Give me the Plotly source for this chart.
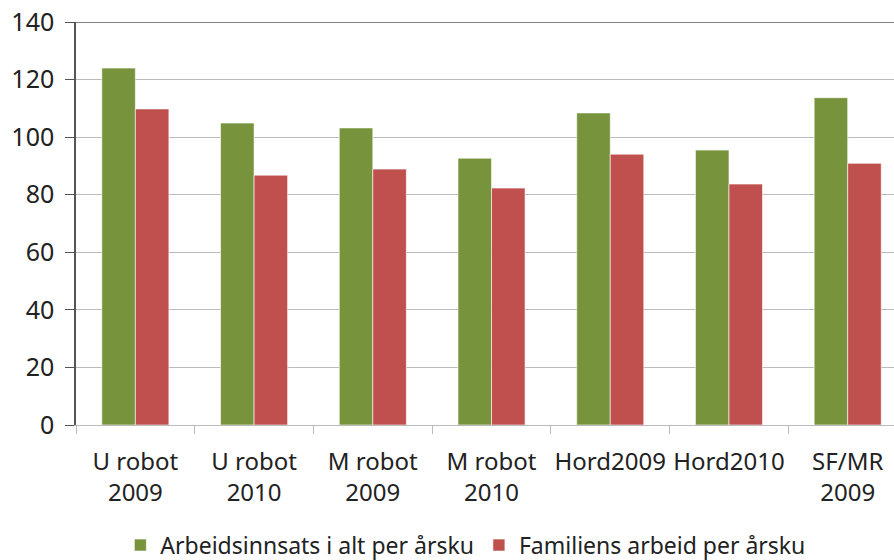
import plotly.graph_objects as go

categories = ["U robot<br>2009", "U robot<br>2010", "M robot<br>2009", "M robot<br>2010",
              "Hord2009", "Hord2010", "SF/MR<br>2009"]
arbeidsinnsats = [124.0, 104.9, 103.2, 92.7, 108.4, 95.5, 113.7]
familiens = [109.8, 86.8, 88.9, 82.3, 94.1, 83.7, 90.9]
series_names = ["Arbeidsinnsats i alt per årsku", "Familiens arbeid per årsku"]
y_ticks = [0, 20, 40, 60, 80, 100, 120, 140]

FONT = "Noto Sans"
fig = go.Figure()
fig.add_trace(go.Bar(x=categories, y=arbeidsinnsats, name=series_names[0],
                     marker=dict(color="#77933C", line=dict(color="rgba(255,255,255,0.6)", width=1))))
fig.add_trace(go.Bar(x=categories, y=familiens, name=series_names[1],
                     marker=dict(color="#C0504D", line=dict(color="rgba(255,255,255,0.6)", width=1))))

fig.update_layout(
    width=894, height=560,
    margin=dict(l=76, r=0, t=22, b=135, autoexpand=False),
    paper_bgcolor="white", plot_bgcolor="white",
    barmode="group", bargap=0.435, bargroupgap=0,
    font=dict(family=FONT, size=24, color="#222222"),
    showlegend=True,
    legend=dict(orientation="h", x=0.476, xanchor="center", y=-0.298, yanchor="middle",
                font=dict(size=23), traceorder="normal"),
    xaxis=dict(range=[-0.5, 6.39], tickson="boundaries", ticks="outside", ticklen=8,
               tickcolor="#BBBBBB", showline=True, linecolor="#BBBBBB", linewidth=1,
               showgrid=False, tickfont=dict(size=24), fixedrange=True, automargin=False,
               tickangle=0, ticklabelstandoff=15),
    yaxis=dict(range=[0, 140], tickvals=y_ticks, ticks="outside", ticklen=9,
               tickcolor="#555555", showline=True, linecolor="#555555", linewidth=1.5,
               showgrid=True, gridcolor="#BBBBBB", gridwidth=1, zeroline=False,
               tickfont=dict(size=25), ticklabelstandoff=6, automargin=False),
)
fig.add_shape(type="line", xref="paper", yref="y", x0=-0.011, x1=1, y0=140, y1=140,
              line=dict(color="#555555", width=1.5))
fig.write_html("out.html", config={"displayModeBar": False},
               post_script="document.body.style.margin='0';")
